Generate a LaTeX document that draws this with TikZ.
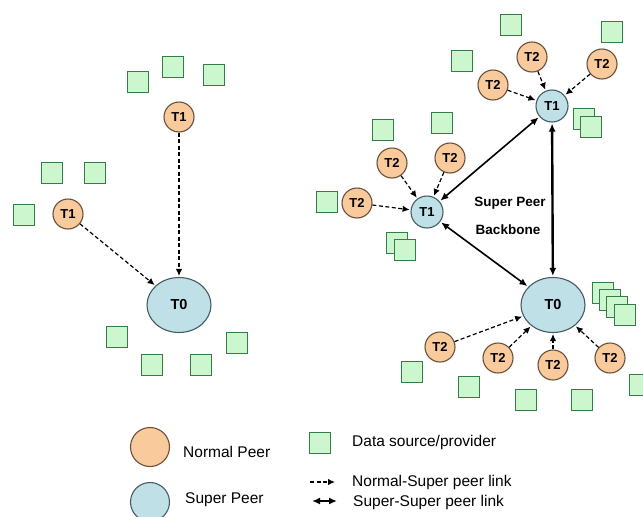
\documentclass[tikz,border=0pt]{standalone}
\usepackage{fontspec}
\setmainfont{Liberation Sans}
\usetikzlibrary{shapes.geometric}
\usetikzlibrary{arrows.meta}

\definecolor{normalfill}{RGB}{249,202,156}
\definecolor{normalline}{RGB}{105,80,58}
\definecolor{superfill}{RGB}{190,224,230}
\definecolor{superline}{RGB}{70,92,98}
\definecolor{sourcefill}{RGB}{204,246,206}
\definecolor{sourceline}{RGB}{52,125,70}

\begin{document}
\begin{tikzpicture}[x=1pt,y=-1pt,
normal/.style={circle,draw=normalline,fill=normalfill,line width=1.1pt,inner sep=0pt,
  minimum size=30pt,font=\fontsize{13}{13}\selectfont\bfseries},
super/.style={circle,draw=superline,fill=superfill,line width=1.1pt,inner sep=0pt,
  minimum size=32pt,font=\fontsize{13}{13}\selectfont\bfseries},
root/.style={ellipse,draw=superline,fill=superfill,line width=1.1pt,inner sep=0pt,
  minimum width=64pt,minimum height=55pt,font=\fontsize{14.5}{14.5}\selectfont\bfseries},
source/.style={rectangle,draw=sourceline,fill=sourcefill,line width=1pt,inner sep=0pt,
  minimum size=21pt},
nslink/.style={-{Latex[length=7pt,width=6.5pt]},line width=1.2pt,
  dash pattern=on 4pt off 2.5pt,shorten >=1pt},
sslink/.style={{Latex[length=8pt,width=7pt]}-{Latex[length=8pt,width=7pt]},
  line width=1.6pt,shorten >=1pt,shorten <=1pt},
legtext/.style={anchor=west,inner sep=0pt,font=\fontsize{15.5}{16}\selectfont}]
\useasboundingbox (0,0) rectangle (643,517);

% data sources
\foreach \x/\y [count=\i] in {138/82,173/67,214/75,52/173,95/173,24/215,
  117/337,152/365,201/365,237/343,
  511/25,612/32,462/61,383/130,442/123,327/202,584/119,591/127,
  397/243,405/250,603/293,610/300,617/307,625/315,
  412/372,469/387,526/400,582/400,640/385}
  \node[source] (s\i) at (\x,\y) {};

% left network
\node[normal] (ta) at (179,117) {T1};
\node[normal] (tb) at (68,214) {T1};
\node[root] (ra) at (179,305) {T0};
\draw[nslink] (ta) -- (ra);
\draw[nslink] (tb) -- (ra);

% right network
\node[super] (ua) at (552,106) {T1};
\node[super] (ub) at (427,212) {T1};
\node[root] (rb) at (553,305) {T0};
\node[normal] (pa) at (532,57) {T2};
\node[normal] (pb) at (602,64) {T2};
\node[normal] (pc) at (493,85) {T2};
\node[normal] (pd) at (392,163) {T2};
\node[normal] (pe) at (450,158) {T2};
\node[normal] (pf) at (357,203) {T2};
\node[normal] (pg) at (440,347) {T2};
\node[normal] (ph) at (498,358) {T2};
\node[normal] (pi) at (553,365) {T2};
\node[normal] (pj) at (610,358) {T2};
\foreach \p in {pa,pb,pc} \draw[nslink] (\p) -- (ua);
\foreach \p in {pd,pe,pf} \draw[nslink] (\p) -- (ub);
\foreach \p in {pg,ph,pi,pj} \draw[nslink] (\p) -- (rb);
\draw[sslink] (ub) -- (ua);
\draw[sslink] (ub) -- (rb);
\draw[sslink,line width=2.4pt] (ua) -- (rb);
\node[inner sep=0pt,font=\fontsize{13.5}{13.5}\selectfont\bfseries] (bbA) at (510,203) {Super Peer};
\node[inner sep=0pt,font=\fontsize{13.5}{13.5}\selectfont\bfseries] (bbB) at (508,230) {Backbone};

% legend
\node[normal,minimum size=39pt] (lgA) at (150,447) {};
\node[super,minimum size=39pt] (lgB) at (150,502) {};
\node[source] (lgC) at (320,443) {};
\node[legtext] (lgD) at (183,452) {Normal Peer};
\node[legtext] (lgE) at (185,500) {Super Peer};
\node[legtext] (lgF) at (352,442) {Data source/provider};
\node[legtext] (lgG) at (352,482) {Normal-Super peer link};
\node[legtext] (lgH) at (353,502) {Super-Super peer link};
\coordinate (nsA) at (310,482);
\coordinate (nsB) at (336,482);
\coordinate (ssA) at (311,501);
\coordinate (ssB) at (338,501);
\draw[nslink] (nsA) -- (nsB);
\draw[sslink] (ssA) -- (ssB);
\end{tikzpicture}
\end{document}
